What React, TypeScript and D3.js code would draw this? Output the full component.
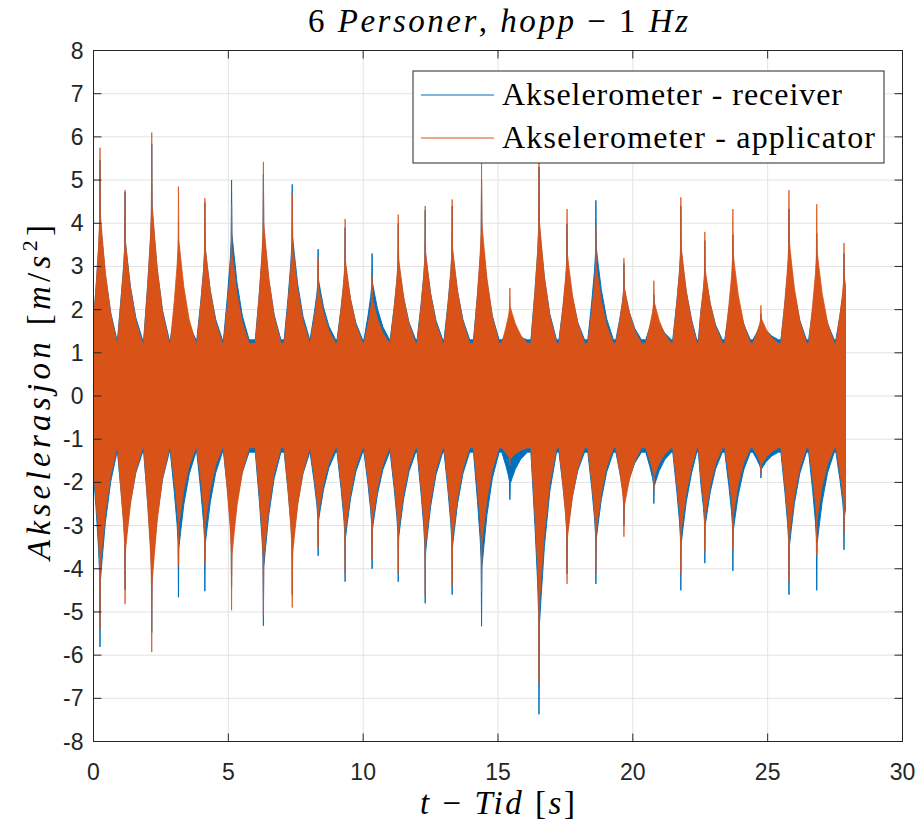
import React from "react";
import * as d3 from "d3";

const W = 921;
const H = 827;
const PLOT = { left: 93.5, right: 902.5, top: 50.5, bottom: 741.5 };

const xTicks = [0, 5, 10, 15, 20, 25, 30];
const yTicks = [-8, -7, -6, -5, -4, -3, -2, -1, 0, 1, 2, 3, 4, 5, 6, 7, 8];
const tEnd = 27.9;

// Impact (jump) times in seconds
const jumpTimes = [0.24, 1.17, 2.16, 3.15, 4.13, 5.12, 6.3, 7.37, 8.33, 9.33, 10.33, 11.3, 12.3, 13.3, 14.39, 15.44, 16.52, 17.56, 18.63, 19.67, 20.78, 21.78, 22.67, 23.71, 24.75, 25.79, 26.82, 27.83];

// Receiver (blue) peak envelope per jump
const receiverMax = [5.46, 4.72, 5.84, 3.6, 4.48, 5.0, 5.14, 4.9, 3.4, 3.9, 3.3, 4.0, 4.3, 4.4, 5.0, 1.65, 5.3, 3.98, 4.53, 3.07, 2.35, 4.4, 3.6, 3.73, 1.9, 4.33, 3.77, 3.3];
const receiverMin = [-5.81, -4.49, -5.48, -4.66, -4.52, -4.41, -5.32, -4.6, -3.7, -4.3, -4.0, -4.3, -4.8, -4.6, -5.33, -2.4, -7.37, -4.12, -4.35, -3.0, -2.49, -4.5, -3.87, -4.05, -1.9, -4.6, -4.5, -3.56];

// Applicator (orange) peak envelope per jump
const applicatorMax = [5.75, 4.77, 6.1, 4.85, 4.58, 4.44, 5.42, 4.7, 3.2, 4.1, 2.8, 4.2, 4.4, 4.55, 5.4, 2.5, 5.5, 4.33, 3.96, 3.19, 2.67, 4.6, 3.8, 4.33, 2.1, 4.77, 4.44, 3.54];
const applicatorMin = [-5.4, -4.82, -5.93, -3.92, -3.88, -4.96, -5.07, -4.9, -3.5, -4.1, -3.8, -4.1, -4.6, -4.4, -4.53, -1.6, -6.67, -4.35, -4.1, -3.26, -2.2, -4.1, -3.6, -3.54, -1.8, -4.3, -3.7, -3.2];

// Background vibration level between jumps
const receiverBase = [1.3, -1.3];
const applicatorBase = [1.22, -1.2];

// Shape of one impact burst: time offset (s) and fraction of peak above background
const burstOffsets = [-0.3, -0.15, -0.05, -0.015, 0, 0.015, 0.08, 0.2, 0.4, 0.65];
const burstFractions = [0, 0.28, 0.5, 0.62, 1, 0.66, 0.55, 0.36, 0.15, 0];

const BLUE = "#0072BD";
const ORANGE = "#D95319";
const AXIS = "#262626";
const GRID = "#e3e3e3";

type Pt = { t: number; hi: number; lo: number };

function envelope(maxs: number[], mins: number[], base: number[]): Pt[] {
  const pts: Pt[] = [];
  jumpTimes.forEach((t0, i) => {
    burstOffsets.forEach((dt, k) => {
      const f = burstFractions[k];
      pts.push({
        t: t0 + dt,
        hi: base[0] + f * (maxs[i] - base[0]),
        lo: base[1] + f * (mins[i] - base[1]),
      });
    });
  });
  pts.sort((a, b) => a.t - b.t);
  return pts;
}

export default function App() {
  const x = d3.scaleLinear().domain([0, 30]).range([PLOT.left, PLOT.right]);
  const y = d3.scaleLinear().domain([-8, 8]).range([PLOT.bottom, PLOT.top]);

  const area = d3
    .area<Pt>()
    .x((d) => x(d.t))
    .y0((d) => y(d.lo))
    .y1((d) => y(d.hi))
    .curve(d3.curveLinear);

  const rec = envelope(receiverMax, receiverMin, receiverBase);
  const app = envelope(applicatorMax, applicatorMin, applicatorBase);

  const tl = 8;
  const serif = "'Liberation Serif', 'Times New Roman', serif";
  const sans = "'Liberation Sans', Arial, Helvetica, sans-serif";

  return (
    <svg width={W} height={H} style={{ position: "absolute", left: 0, top: 0, background: "#fff" }}>
      <defs>
        <clipPath id="dataClip">
          <rect x={x(0)} y={PLOT.top} width={x(tEnd) - x(0)} height={PLOT.bottom - PLOT.top} />
        </clipPath>
      </defs>
      <rect x={0} y={0} width={W} height={H} fill="#fff" />
      {/* grid */}
      {xTicks.map((t) => (
        <line key={"gx" + t} x1={x(t)} x2={x(t)} y1={PLOT.top} y2={PLOT.bottom} stroke={GRID} strokeWidth={1} />
      ))}
      {yTicks.map((v) => (
        <line key={"gy" + v} x1={PLOT.left} x2={PLOT.right} y1={y(v)} y2={y(v)} stroke={GRID} strokeWidth={1} />
      ))}
      {/* data */}
      <g clipPath="url(#dataClip)">
        <path d={area(rec) || ""} fill={BLUE} stroke={BLUE} strokeWidth={1} />
        <path d={area(app) || ""} fill={ORANGE} stroke={ORANGE} strokeWidth={0.8} />
      </g>
      {/* box + ticks */}
      <rect x={PLOT.left} y={PLOT.top} width={PLOT.right - PLOT.left} height={PLOT.bottom - PLOT.top} fill="none" stroke={AXIS} strokeWidth={1} />
      {xTicks.map((t) => (
        <g key={"tx" + t}>
          <line x1={x(t)} x2={x(t)} y1={PLOT.bottom} y2={PLOT.bottom - tl} stroke={AXIS} />
          <line x1={x(t)} x2={x(t)} y1={PLOT.top} y2={PLOT.top + tl} stroke={AXIS} />
          <text x={x(t)} y={PLOT.bottom + 38} textAnchor="middle" fontFamily={sans} fontSize={23} fill={AXIS}>
            {String(t)}
          </text>
        </g>
      ))}
      {yTicks.map((v) => (
        <g key={"ty" + v}>
          <line x1={PLOT.left} x2={PLOT.left + tl} y1={y(v)} y2={y(v)} stroke={AXIS} />
          <line x1={PLOT.right} x2={PLOT.right - tl} y1={y(v)} y2={y(v)} stroke={AXIS} />
          <text x={PLOT.left - 10} y={y(v) + 8} textAnchor="end" fontFamily={sans} fontSize={23} fill={AXIS}>
            {String(v)}
          </text>
        </g>
      ))}
      {/* title */}
      <text x={308} y={32} textLength={380} lengthAdjust="spacing" fontFamily={serif} fontSize={33} fill="#000">
        <tspan>6 </tspan>
        <tspan fontStyle="italic">Personer</tspan>
        <tspan>, </tspan>
        <tspan fontStyle="italic">hopp</tspan>
        <tspan> − 1 </tspan>
        <tspan fontStyle="italic">Hz</tspan>
      </text>
      {/* x label */}
      <text x={420} y={814} textLength={155} lengthAdjust="spacing" fontFamily={serif} fontSize={33} fill="#000">
        <tspan fontStyle="italic">t</tspan>
        <tspan> − </tspan>
        <tspan fontStyle="italic">Tid</tspan>
        <tspan> [</tspan>
        <tspan fontStyle="italic">s</tspan>
        <tspan>]</tspan>
      </text>
      {/* y label */}
      <text transform={`translate(50, 560) rotate(-90)`} textLength={335} lengthAdjust="spacing" fontFamily={serif} fontSize={33} fill="#000">
        <tspan fontStyle="italic">Akselerasjon</tspan>
        <tspan> [</tspan>
        <tspan fontStyle="italic">m</tspan>
        <tspan>/</tspan>
        <tspan fontStyle="italic">s</tspan>
        <tspan fontSize={22} dy={-13}>2</tspan>
        <tspan dy={13}>]</tspan>
      </text>
      {/* legend */}
      <rect x={413} y={71} width={471} height={92} fill="#fff" stroke={AXIS} strokeWidth={1} />
      <line x1={421} x2={494} y1={95} y2={95} stroke={BLUE} strokeWidth={1.2} />
      <line x1={421} x2={494} y1={138} y2={138} stroke={ORANGE} strokeWidth={1.2} />
      <text x={502} y={105} textLength={340} lengthAdjust="spacing" fontFamily={serif} fontSize={32} fill="#000">Akselerometer - receiver</text>
      <text x={502} y={148} textLength={373} lengthAdjust="spacing" fontFamily={serif} fontSize={32} fill="#000">Akselerometer - applicator</text>
    </svg>
  );
}
